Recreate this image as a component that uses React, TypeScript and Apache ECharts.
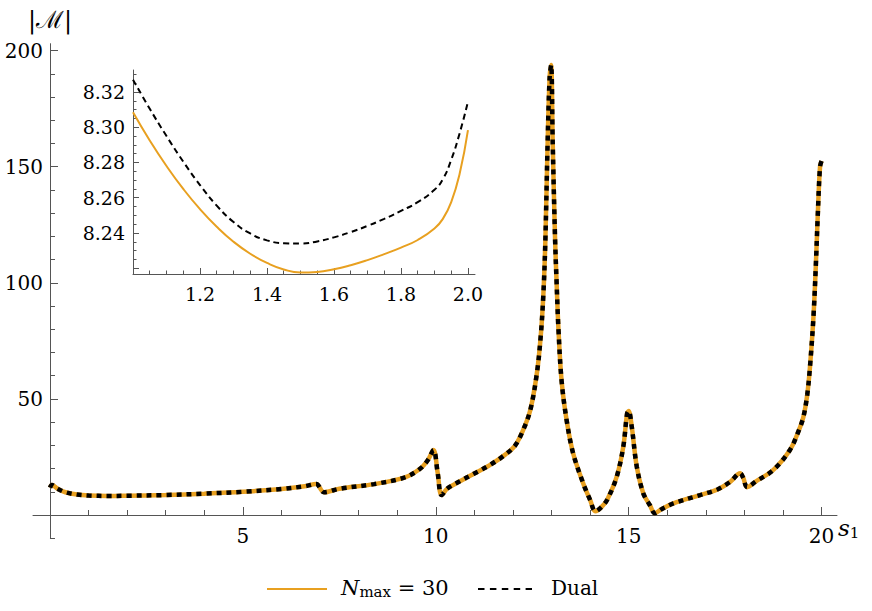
import React, { useEffect, useRef } from "react";
import * as echarts from "echarts";

// Main panel: |M| versus s1
const mainS = [0, 0.05, 0.2, 0.4, 0.7, 1.0, 1.5, 2.0, 3.0, 4.0, 5.0, 6.0, 6.6, 6.9, 7.1, 7.5, 8.4, 9.2, 9.6, 9.8, 9.94, 10.05, 10.15, 10.3, 10.6, 11.0, 11.4, 11.8, 12.05, 12.25, 12.45, 12.62, 12.72, 12.79, 12.84, 12.9, 12.95, 12.99, 13.03, 13.09, 13.13, 13.18, 13.26, 13.39, 13.56, 13.82, 14.0, 14.14, 14.3, 14.45, 14.69, 14.86, 14.96, 15.0, 15.08, 15.21, 15.38, 15.55, 15.68, 15.85, 16.16, 16.85, 17.3, 17.63, 17.89, 17.97, 18.07, 18.3, 18.75, 19.18, 19.4, 19.53, 19.63, 19.7, 19.79, 19.85, 19.9, 19.96, 20.0];
const mainNmax = [11.8, 12.9, 11.3, 9.8, 8.8, 8.4, 8.2, 8.3, 8.6, 9.2, 10.0, 11.2, 12.4, 13.4, 9.8, 11.3, 13.3, 16.2, 20.0, 23.8, 28.0, 18.0, 8.6, 11.4, 14.3, 17.9, 21.5, 26.0, 29.8, 36.0, 45.2, 61, 77, 95.5, 118, 161, 188, 193.8, 161, 120, 101, 80, 58, 41, 26.6, 13.7, 6.5, 1.6, 3.5, 6.8, 16.5, 29.4, 43.8, 44.8, 38, 20.8, 9.3, 4.2, 0.8, 2.5, 5, 8.6, 11, 14.3, 18.0, 16, 12, 14.5, 19.4, 28, 36, 42.3, 52, 63.9, 85.4, 106.9, 128.5, 150, 152.5];
const mainDual = [11.8, 12.9, 11.3, 9.8, 8.8, 8.4, 8.2, 8.3, 8.6, 9.2, 10.0, 11.2, 12.4, 13.4, 9.8, 11.3, 13.3, 16.2, 20.0, 23.8, 28.0, 18.0, 8.6, 11.4, 14.3, 17.9, 21.5, 26.0, 29.8, 36.0, 45.2, 61, 77, 95.5, 118, 161, 188, 193.8, 161, 120, 101, 80, 58, 41, 26.6, 13.7, 6.5, 1.6, 3.5, 6.8, 16.5, 29.4, 43.8, 44.8, 38, 20.8, 9.3, 4.2, 0.8, 2.5, 5, 8.6, 11, 14.3, 18.0, 16, 12, 14.5, 19.4, 28, 36, 42.3, 52, 63.9, 85.4, 106.9, 128.5, 150, 152.5];

// Inset: zoom on 1 <= s1 <= 2
const insetS = [1.0, 1.05, 1.1, 1.15, 1.2, 1.25, 1.3, 1.35, 1.4, 1.45, 1.5, 1.55, 1.6, 1.65, 1.7, 1.75, 1.8, 1.85, 1.9, 1.925, 1.95, 1.975, 2.0];
const insetNmax = [8.3085, 8.2925, 8.278, 8.265, 8.2535, 8.2435, 8.235, 8.2282, 8.223, 8.2193, 8.2176, 8.2179, 8.2194, 8.2217, 8.2246, 8.228, 8.2317, 8.236, 8.2425, 8.248, 8.2575, 8.2735, 8.2984];
const insetDual = [8.327, 8.3105, 8.295, 8.2805, 8.2672, 8.2555, 8.2462, 8.2397, 8.2358, 8.2342, 8.234, 8.2352, 8.2375, 8.2405, 8.244, 8.248, 8.2525, 8.2575, 8.2645, 8.2705, 8.2815, 8.2965, 8.3145];

// Tick labels / tick positions
const mainXLabels = [5, 10, 15, 20];
const mainXMinor = [1, 2, 3, 4, 6, 7, 8, 9, 11, 12, 13, 14, 16, 17, 18, 19];
const mainYLabels = [50, 100, 150, 200];
const mainYMinor = [10, 20, 30, 40, 60, 70, 80, 90, 110, 120, 130, 140, 160, 170, 180, 190];
const mainYBelow = [-10];
const insetXLabels = [1.2, 1.4, 1.6, 1.8, 2.0];
const insetXMinor = [1.05, 1.1, 1.15, 1.25, 1.3, 1.35, 1.45, 1.5, 1.55, 1.65, 1.7, 1.75, 1.85, 1.9, 1.95];
const insetYLabels = [8.24, 8.26, 8.28, 8.3, 8.32];
const insetYMajorTicks = [8.22, 8.24, 8.26, 8.28, 8.3, 8.32];
const insetYMinor = [8.225, 8.23, 8.235, 8.245, 8.25, 8.255, 8.265, 8.27, 8.275, 8.285, 8.29, 8.295, 8.305, 8.31, 8.315, 8.325, 8.33];

const ORANGE = "#E8A020";
const AXIS = "#555555";
const FONT = "DejaVu Serif";

const zip = (xs: number[], ys: number[]) => xs.map((x, i) => [x, ys[i]]);

export default function App() {
  const ref = useRef<HTMLDivElement>(null);
  useEffect(() => {
    if (!ref.current) return;
    const chart = echarts.init(ref.current, null, { renderer: "svg" });
    const tickLine = { color: AXIS, width: 1 };
    const lbl = { color: "#000", fontFamily: FONT };
    const noAxisLine = { show: false, onZero: false };
    const option: any = {
      animation: false,
      backgroundColor: "#fff",
      grid: [
        // main plot area: x from 0, y from 0
        { left: 50, right: 35, top: 43.7, bottom: 96, outerBoundsMode: "none", containLabel: false },
        // inset
        { left: 133, width: 342, top: 70, height: 204, outerBoundsMode: "none", containLabel: false },
        // main axes lines (extend slightly past the origin)
        { left: 33, right: 35, top: 43.7, bottom: 72.8, outerBoundsMode: "none", containLabel: false },
      ],
      xAxis: [
        {
          type: "value", gridIndex: 0, min: 0, max: 20.4, position: "bottom",
          axisLine: noAxisLine,
          axisTick: { show: true, inside: true, length: 8, customValues: mainXLabels, lineStyle: tickLine },
          axisLabel: { show: true, customValues: mainXLabels, fontSize: 20, margin: 11, ...lbl },
          splitLine: { show: false },
        },
        {
          type: "value", gridIndex: 0, min: 0, max: 20.4, position: "bottom",
          axisLine: noAxisLine,
          axisTick: { show: true, inside: true, length: 5, customValues: mainXMinor, lineStyle: tickLine },
          axisLabel: { show: false },
          splitLine: { show: false },
        },
        {
          type: "value", gridIndex: 1, min: 1, max: 2.021, position: "bottom",
          axisLine: { show: true, onZero: false, lineStyle: tickLine },
          axisTick: { show: true, inside: true, length: 6, customValues: insetXLabels, lineStyle: tickLine },
          axisLabel: { show: true, customValues: insetXLabels, fontSize: 19, margin: 10, formatter: (v: number) => v.toFixed(1), ...lbl },
          splitLine: { show: false },
        },
        {
          type: "value", gridIndex: 1, min: 1, max: 2.021, position: "bottom",
          axisLine: noAxisLine,
          axisTick: { show: true, inside: true, length: 3.5, customValues: insetXMinor, lineStyle: tickLine },
          axisLabel: { show: false },
          splitLine: { show: false },
        },
        {
          type: "value", gridIndex: 2, min: -0.44, max: 20.4, position: "bottom",
          axisLine: { show: true, onZero: true, onZeroAxisIndex: 4, lineStyle: tickLine },
          axisTick: { show: false },
          axisLabel: { show: false },
          splitLine: { show: false },
          name: "{s|s}{sub|1}", nameLocation: "end", nameGap: 1, nameMoveOverlap: false,
          nameTextStyle: {
            padding: [26, 0, 0, 0],
            rich: {
              s: { fontFamily: FONT, fontStyle: "italic", fontSize: 23, color: "#000" },
              sub: { fontFamily: FONT, fontSize: 15, color: "#000", padding: [10, 0, 0, 0] },
            },
          },
        },
      ],
      yAxis: [
        {
          type: "value", gridIndex: 0, min: 0, max: 203, position: "left",
          axisLine: noAxisLine,
          axisTick: { show: true, inside: true, length: 8, customValues: mainYLabels, lineStyle: tickLine },
          axisLabel: { show: true, customValues: mainYLabels, fontSize: 20, margin: 7, ...lbl },
          splitLine: { show: false },
        },
        {
          type: "value", gridIndex: 0, min: 0, max: 203, position: "left",
          axisLine: noAxisLine,
          axisTick: { show: true, inside: true, length: 5, customValues: mainYMinor, lineStyle: tickLine },
          axisLabel: { show: false },
          splitLine: { show: false },
        },
        {
          type: "value", gridIndex: 1, min: 8.2167, max: 8.3325, position: "left",
          axisLine: { show: true, onZero: false, lineStyle: tickLine },
          axisTick: { show: true, inside: true, length: 6, customValues: insetYMajorTicks, lineStyle: tickLine },
          axisLabel: { show: true, customValues: insetYLabels, fontSize: 19, margin: 8, formatter: (v: number) => v.toFixed(2), ...lbl },
          splitLine: { show: false },
        },
        {
          type: "value", gridIndex: 1, min: 8.2167, max: 8.3325, position: "left",
          axisLine: noAxisLine,
          axisTick: { show: true, inside: true, length: 3.5, customValues: insetYMinor, lineStyle: tickLine },
          axisLabel: { show: false },
          splitLine: { show: false },
        },
        {
          type: "value", gridIndex: 2, min: -10, max: 203, position: "left",
          axisLine: { show: true, onZero: true, onZeroAxisIndex: 4, lineStyle: tickLine },
          axisTick: { show: true, inside: true, length: 5, customValues: mainYBelow, lineStyle: tickLine },
          axisLabel: { show: false },
          splitLine: { show: false },
          name: "|ℳ|", nameLocation: "end", nameGap: 12, nameMoveOverlap: false,
          nameTextStyle: { fontFamily: FONT, fontSize: 24, color: "#000", align: "center" },
        },
      ],
      graphic: [
        { type: "line", shape: { x1: 267, y1: 589, x2: 327, y2: 589 }, style: { stroke: ORANGE, lineWidth: 2 } },
        {
          type: "text", x: 341, y: 588,
          style: {
            text: "{n|N}{m|max}{t| = 30}", verticalAlign: "middle",
            rich: {
              n: { fontFamily: FONT, fontStyle: "italic", fontSize: 21, fill: "#000" },
              m: { fontFamily: FONT, fontSize: 15, fill: "#000", padding: [8, 0, 0, 0] },
              t: { fontFamily: FONT, fontSize: 21, fill: "#000" },
            },
          },
        },
        { type: "line", shape: { x1: 478, y1: 589, x2: 532, y2: 589 }, style: { stroke: "#000", lineWidth: 2, lineDash: [6.5, 5.4] } },
        { type: "text", x: 551, y: 588, style: { text: "Dual", verticalAlign: "middle", fontFamily: FONT, fontSize: 20, fill: "#000" } },
      ],
      series: [
        {
          name: "Nmax", type: "line", xAxisIndex: 0, yAxisIndex: 0, data: zip(mainS, mainNmax),
          symbol: "none", smooth: 0.35,
          lineStyle: { color: ORANGE, width: 4.5 }, z: 2,
        },
        {
          name: "Dual", type: "line", xAxisIndex: 0, yAxisIndex: 0, data: zip(mainS, mainDual),
          symbol: "none", smooth: 0.35,
          lineStyle: { color: "#000", width: 4.5, type: [5, 5], cap: "butt" }, z: 3,
        },
        {
          name: "Nmax", type: "line", xAxisIndex: 2, yAxisIndex: 2, data: zip(insetS, insetNmax),
          symbol: "none", smooth: 0.5,
          lineStyle: { color: ORANGE, width: 2 }, z: 4,
        },
        {
          name: "Dual", type: "line", xAxisIndex: 2, yAxisIndex: 2, data: zip(insetS, insetDual),
          symbol: "none", smooth: 0.5,
          lineStyle: { color: "#000", width: 2, type: [6, 4] }, z: 4,
        },
      ],
    };
    chart.setOption(option);
    return () => chart.dispose();
  }, []);
  return <div ref={ref} style={{ width: 872, height: 611, position: "absolute", left: 0, top: 0 }} />;
}
